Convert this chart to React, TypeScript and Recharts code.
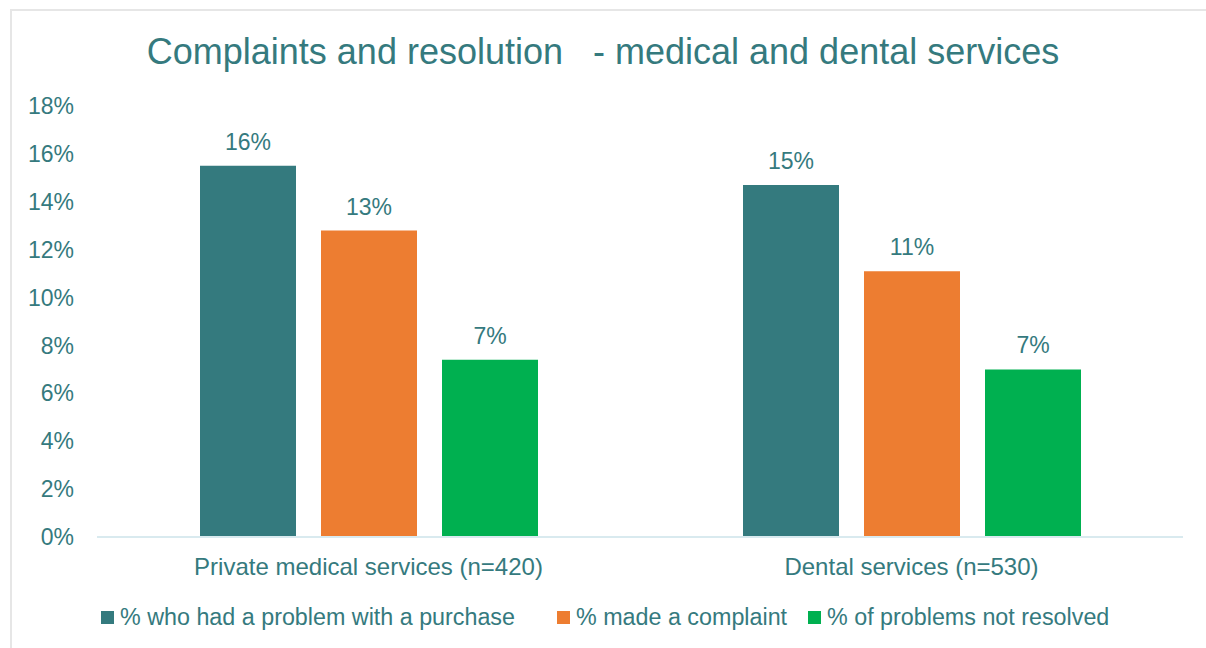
import { BarChart, Bar, XAxis, YAxis, LabelList } from "recharts"

const categories = ["Private medical services (n=420)", "Dental services (n=530)"]
const hadProblem = [15.5, 14.7]
const madeComplaint = [12.8, 11.1]
const notResolved = [7.4, 7.0]
const yTicks = [0, 2, 4, 6, 8, 10, 12, 14, 16, 18]

const series = [
  { key: "problem", name: "% who had a problem with a purchase", color: "#347a7e" },
  { key: "complaint", name: "% made a complaint", color: "#ed7d31" },
  { key: "unresolved", name: "% of problems not resolved", color: "#00b050" },
]

// x of each legend swatch
const legendLeft = [101, 557, 808]

const data = categories.map((name, i) => ({
  name,
  problem: hadProblem[i],
  complaint: madeComplaint[i],
  unresolved: notResolved[i],
}))

const TEXT = "#357a7e"
const FONT = "'Liberation Sans', Arial, sans-serif"

function LegendBox() {
  return (
    <div style={{ position: "absolute", left: 0, top: 604, width: 1206, height: 30, fontSize: 23.3, color: TEXT }}>
      {series.map((s, i) => (
        <div key={s.key} style={{ position: "absolute", left: legendLeft[i], top: 0, display: "flex", alignItems: "center", whiteSpace: "pre" }}>
          <span style={{ width: 13, height: 13, background: s.color, display: "inline-block", marginRight: 6 }} />
          <span>{s.name}</span>
        </div>
      ))}
    </div>
  )
}

export default function App() {
  return (
    <div style={{ position: "absolute", left: 0, top: 0, width: 1206, height: 648, background: "#fff", fontFamily: FONT }}>
      <div
        style={{
          position: "absolute",
          left: 10,
          top: 9,
          width: 1196,
          height: 639,
          borderLeft: "2px solid #e6e6e6",
          borderTop: "2px solid #e6e6e6",
          boxSizing: "border-box",
        }}
      />
      <div
        style={{
          position: "absolute",
          left: 0,
          top: 31,
          width: 1206,
          textAlign: "center",
          fontSize: 36,
          color: TEXT,
          whiteSpace: "pre",
        }}
      >
        {"Complaints and resolution   - medical and dental services"}
      </div>
      <div style={{ position: "absolute", left: 0, top: 0 }}>
        <BarChart
          width={1206}
          height={648}
          data={data}
          margin={{ top: 106, right: 23, left: 0, bottom: 0 }}
          barGap={25}
        >
          <XAxis
            dataKey="name"
            height={111}
            tickSize={0}
            tickMargin={21}
            axisLine={{ stroke: "#d9eaef", strokeWidth: 2 }}
            tick={{ fill: TEXT, fontSize: 24, fontFamily: FONT }}
          />
          <YAxis
            width={97}
            domain={[0, 18]}
            ticks={yTicks}
            tickFormatter={(v) => `${v}%`}
            axisLine={false}
            tickLine={false}
            tickSize={0}
            tickMargin={23}
            tick={{ fill: TEXT, fontSize: 23, fontFamily: FONT }}
          />
          {series.map((s) => (
            <Bar key={s.key} dataKey={s.key} name={s.name} fill={s.color} barSize={96} isAnimationActive={false}>
              <LabelList
                dataKey={s.key}
                position="top"
                offset={16}
                formatter={(v: number) => `${Math.round(v)}%`}
                style={{ fill: TEXT, fontSize: 23, fontFamily: FONT }}
              />
            </Bar>
          ))}
        </BarChart>
      </div>
      <LegendBox />
    </div>
  )
}
